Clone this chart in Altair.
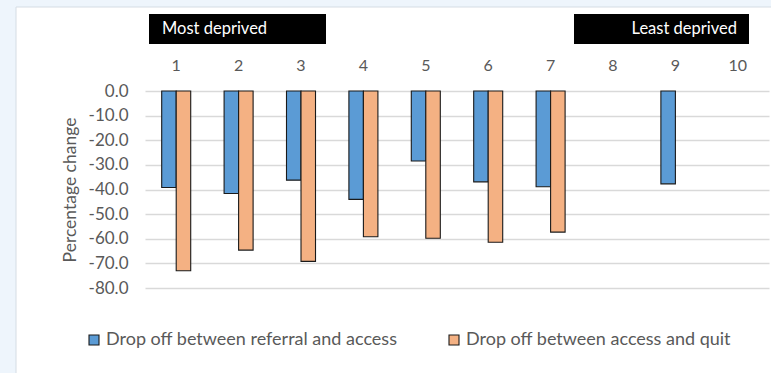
import altair as alt
import pandas as pd

# Deprivation deciles (1 = most deprived, 10 = least deprived)
deciles = ["1", "2", "3", "4", "5", "6", "7", "8", "9", "10"]
referral_to_access = [-39.2, -41.6, -36.2, -44.0, -28.4, -36.9, -38.9, None, -37.7, None]
access_to_quit = [-73.0, -64.6, -69.2, -59.2, -59.8, -61.4, -57.3, None, None, None]

series_names = ["Drop off between referral and access", "Drop off between access and quit"]
series_colors = ["#5B9BD5", "#F4B183"]
y_ticks = [0, -10, -20, -30, -40, -50, -60, -70, -80]

band_labels = ["Most deprived", "Least deprived"]

FONT = "Lato"
GREY = "#595959"

rows = []
for d, a, b in zip(deciles, referral_to_access, access_to_quit):
    if a is not None:
        rows.append({"decile": d, "series": series_names[0], "value": a})
    if b is not None:
        rows.append({"decile": d, "series": series_names[1], "value": b})
bars_df = pd.DataFrame(rows)

bars = alt.Chart(bars_df).mark_bar(stroke="#1A1A1A", strokeWidth=1.1).encode(
    x=alt.X(
        "decile:N",
        sort=deciles,
        scale=alt.Scale(domain=deciles, paddingInner=0.535, paddingOuter=0.2676),
        axis=alt.Axis(
            orient="top", title=None, labelAngle=0, domain=False, ticks=False,
            grid=False, labelPadding=18, labelFontSize=16, labelColor=GREY,
            labelFont=FONT,
        ),
    ),
    xOffset=alt.XOffset(
        "series:N",
        sort=series_names,
        scale=alt.Scale(domain=series_names, paddingInner=0, paddingOuter=0),
    ),
    y=alt.Y(
        "value:Q",
        scale=alt.Scale(domain=[-80, 0], nice=False, zero=False),
        axis=alt.Axis(
            values=y_ticks,
            labelExpr="replace(format(datum.value, '.1f'), '\u2212', '-')",
            title="Percentage change",
            domain=False, ticks=False, labelPadding=17, labelFontSize=17,
            labelColor=GREY, labelFont=FONT, gridColor="#D9D9D9",
            gridWidth=1.3, titleFont=FONT, titleFontSize=17.5,
            titleFontWeight="normal", titleColor=GREY, titlePadding=9,
        ),
    ),
    y2=alt.datum(0),
    color=alt.Color(
        "series:N",
        scale=alt.Scale(domain=series_names, range=series_colors),
        legend=alt.Legend(
            orient="none", legendX=-60, legendY=240, direction="horizontal",
            columns=2, title=None, symbolType="square", symbolSize=100,
            symbolStrokeColor="#1A1A1A", symbolStrokeWidth=1.1,
            symbolOpacity=1, labelFontSize=18, labelFont=FONT,
            labelColor=GREY, labelOffset=3, columnPadding=47, labelLimit=400,
        ),
    ),
)

# Light blue frame strips around the white chart area
frame_top = alt.Chart(pd.DataFrame({"k": [0]})).mark_rect(fill="#EEF5FC").encode(
    x=alt.value(-145), x2=alt.value(626), y=alt.value(-91), y2=alt.value(-84)
)
frame_left = alt.Chart(pd.DataFrame({"k": [0]})).mark_rect(fill="#EEF5FC").encode(
    x=alt.value(-145), x2=alt.value(-129), y=alt.value(-91), y2=alt.value(282)
)
frame_edge = alt.Chart(pd.DataFrame({"k": [0]})).mark_rule(color="#D5DCE4", strokeWidth=1).encode(
    x=alt.value(-129), y=alt.value(-84), y2=alt.value(282)
)
frame_edge_top = alt.Chart(pd.DataFrame({"k": [0]})).mark_rule(color="#D5DCE4", strokeWidth=1).encode(
    x=alt.value(-129), x2=alt.value(626), y=alt.value(-84)
)

# Black label boxes above the deciles
box_df = pd.DataFrame({"label": band_labels})
most_box = alt.Chart(box_df.iloc[[0]]).mark_rect(fill="#000000").encode(
    x=alt.value(4), x2=alt.value(181), y=alt.value(-77), y2=alt.value(-47)
)
least_box = alt.Chart(box_df.iloc[[1]]).mark_rect(fill="#000000").encode(
    x=alt.value(429), x2=alt.value(604), y=alt.value(-77), y2=alt.value(-47)
)
most_text = alt.Chart(box_df.iloc[[0]]).mark_text(
    align="left", baseline="middle", color="#FFFFFF", fontSize=16.5, font=FONT
).encode(x=alt.value(17), y=alt.value(-62), text="label:N")
least_text = alt.Chart(box_df.iloc[[1]]).mark_text(
    align="right", baseline="middle", color="#FFFFFF", fontSize=16.5, font=FONT
).encode(x=alt.value(592), y=alt.value(-62), text="label:N")

chart = alt.layer(
    frame_top, frame_left, frame_edge, frame_edge_top,
    bars, most_box, least_box, most_text, least_text,
).properties(
    width=624,
    height=197,
    padding={"left": 145, "top": 91, "right": 2, "bottom": 85},
    autosize=alt.AutoSizeParams(type="none"),
    background="#FFFFFF",
).configure_view(stroke=None)

chart.save("out.html", embed_options={"renderer": "svg", "actions": False})
